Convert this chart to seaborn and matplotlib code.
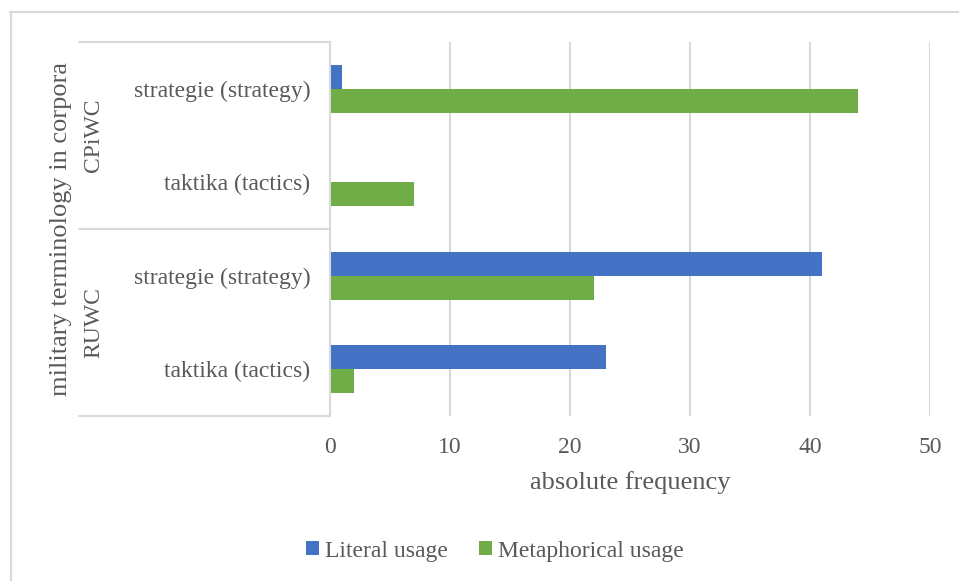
import matplotlib
matplotlib.use("Agg")
import matplotlib.pyplot as plt
from matplotlib.lines import Line2D
import pandas as pd
import seaborn as sns

# Categories: corpus groups and the terms inside them (top to bottom)
corpora = ["CPiWC", "CPiWC", "RUWC", "RUWC"]
terms = ["strategie (strategy)", "taktika (tactics)",
         "strategie (strategy)", "taktika (tactics)"]

# Absolute frequencies per usage type
literal = [1, 0, 41, 23]
metaphorical = [44, 7, 22, 2]

usage_labels = ["Literal usage", "Metaphorical usage"]
colors = ["#4472C4", "#70AD47"]
x_ticks = [0, 10, 20, 30, 40, 50]

GREY_TEXT = "#595959"
GREY_LINE = "#D9D9D9"

keys = [f"{c} | {t}" for c, t in zip(corpora, terms)]
df = pd.DataFrame({
    "key": keys * 2,
    "usage": [usage_labels[0]] * len(keys) + [usage_labels[1]] * len(keys),
    "frequency": literal + metaphorical,
})

sns.set_theme(style="white")
plt.rcParams["font.family"] = ["Liberation Serif", "DejaVu Serif"]
plt.rcParams["text.color"] = GREY_TEXT
plt.rcParams["axes.labelcolor"] = GREY_TEXT
plt.rcParams["xtick.color"] = GREY_TEXT
plt.rcParams["ytick.color"] = GREY_TEXT

W, H = 959, 581
fig = plt.figure(figsize=(W / 100, H / 100), dpi=100)
ax = fig.add_axes([330 / W, 1 - 416 / H, 600 / W, 374 / H])

sns.barplot(data=df, y="key", x="frequency", hue="usage", order=keys,
            hue_order=usage_labels, palette=colors, saturation=1, orient="y",
            width=0.51, gap=0, linewidth=0, ax=ax)

ax.set_xlim(0, 50)
ax.set_ylim(3.5, -0.5)
ax.set_xticks(x_ticks)
ax.set_xticklabels([str(v) for v in x_ticks])
ax.set_yticks(range(len(keys)))
ax.set_yticklabels(terms)
ax.tick_params(axis="y", length=0, pad=14, labelsize=17)
ax.tick_params(axis="x", length=0, pad=15, labelsize=17)

ax.set_axisbelow(True)
ax.grid(axis="x", color=GREY_LINE, linewidth=1.5)
ax.grid(axis="y", visible=False)
for side in ["top", "right", "bottom"]:
    ax.spines[side].set_visible(False)
ax.spines["left"].set_color(GREY_LINE)
ax.spines["left"].set_linewidth(1.5)

ax.set_ylabel("")
ax.set_xlabel("absolute frequency", fontsize=19)
ax.xaxis.set_label_coords(0.5, -0.148)

# Grouping table lines to the left of the plot area
x_left = (79 - 330) / 600
for yy in (0.0, 0.5, 1.0):
    ax.plot([x_left, 0], [yy, yy], transform=ax.transAxes, color=GREY_LINE,
            linewidth=1.5, clip_on=False)

# Corpus group labels and the vertical axis title
fig.text(94 / W, 1 - 135.5 / H, "CPiWC", rotation=90, ha="center",
         va="center", fontsize=17)
fig.text(94 / W, 1 - 322.5 / H, "RUWC", rotation=90, ha="center",
         va="center", fontsize=17)
fig.text(61 / W, 1 - 229 / H, "military terminology in corpora",
         rotation=90, ha="center", va="center", fontsize=19)

# Legend below the chart
handles, labels = ax.get_legend_handles_labels()
ax.get_legend().remove()
fig.legend(handles, labels, loc="center", bbox_to_anchor=(495 / W, 1 - 551 / H),
           ncol=2, frameon=False, fontsize=17, handlelength=0.55,
           handleheight=0.55, handletextpad=0.25, columnspacing=1.3)

# Chart border
fig.add_artist(Line2D([10 / W, 1], [1 - 12 / H, 1 - 12 / H],
                      transform=fig.transFigure, color=GREY_LINE, linewidth=1.5))
fig.add_artist(Line2D([10.5 / W, 10.5 / W], [0, 1 - 12 / H],
                      transform=fig.transFigure, color=GREY_LINE, linewidth=1.5))

fig.savefig("out.png", dpi=100)
